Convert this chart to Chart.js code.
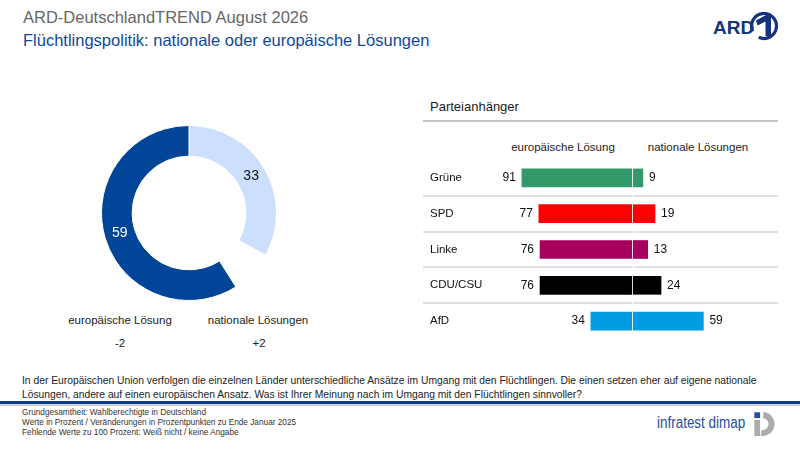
<!DOCTYPE html>
<html><head><meta charset="utf-8">
<script src="https://cdn.jsdelivr.net/npm/chart.js@4.4.1/dist/chart.umd.min.js"></script>
<style>
html,body{margin:0;padding:0;background:#fff;}
#page{position:relative;width:800px;height:450px;overflow:hidden;font-family:"Liberation Sans",Arial,sans-serif;color:#222;}
.abs{position:absolute;white-space:nowrap;}
.c{transform:translateX(-50%);text-align:center;}
canvas{position:absolute;}
</style></head><body>
<div id="page">
  <div class="abs" style="left:23px;top:7px;font-size:16.5px;line-height:20px;color:#666;">ARD-DeutschlandTREND August 2026</div>
  <div class="abs" style="left:23px;top:30px;font-size:16.5px;line-height:20px;color:#0d4a9a;">Flüchtlingspolitik: nationale oder europäische Lösungen</div>

  <div class="abs" style="left:713px;top:17px;font-weight:bold;font-size:19px;line-height:22px;color:#14357c;">ARD</div>
  <svg class="abs" style="left:750px;top:12px;" width="30" height="30" viewBox="0 0 30 30">
    <path d="M8.7 25.3 A12.5 12.5 0 1 0 2.7 19.3" fill="none" stroke="#14357c" stroke-width="3.2"/>
    <path d="M6 8.5 L16 3 L21 3 L21 24 L15.5 24 L15.5 9.5 L7.5 13.5 Z" fill="#14357c"/>
  </svg>

  <canvas id="donut" width="176" height="176" style="left:101px;top:125px;width:176px;height:176px;"></canvas>
  <div class="abs c" id="dl0" style="left:120px;top:312px;font-size:11.5px;line-height:16px;"></div>
  <div class="abs c" id="dl1" style="left:258px;top:312px;font-size:11.5px;line-height:16px;"></div>
  <div class="abs c" id="dc0" style="left:120px;top:335px;font-size:11.5px;line-height:16px;"></div>
  <div class="abs c" id="dc1" style="left:259px;top:335px;font-size:11.5px;line-height:16px;"></div>

  <div class="abs" style="left:430px;top:98px;font-size:13px;line-height:18px;">Parteianhänger</div>
  <div class="abs" style="left:423px;top:120px;width:355px;height:2px;background:#c4c4c4;"></div>
  <div class="abs c" id="h0" style="left:563px;top:139px;font-size:11.5px;line-height:16px;"></div>
  <div class="abs c" id="h1" style="left:698px;top:139px;font-size:11.5px;line-height:16px;"></div>
  <canvas id="bars" width="365" height="255" style="left:420px;top:90px;width:365px;height:255px;"></canvas>

  <div class="abs" style="left:22px;top:374px;font-size:10.3px;line-height:13.5px;color:#222;">In der Europäischen Union verfolgen die einzelnen Länder unterschiedliche Ansätze im Umgang mit den Flüchtlingen. Die einen setzen eher auf eigene nationale<br>Lösungen, andere auf einen europäischen Ansatz. Was ist Ihrer Meinung nach im Umgang mit den Flüchtlingen sinnvoller?</div>
  <div class="abs" style="left:0;top:401px;width:800px;height:3px;background:#0b3d8f;"></div>
  <div class="abs" style="left:0;top:404px;width:800px;height:2px;background:#cfcfcf;"></div>
  <div class="abs" style="left:22px;top:408px;font-size:8.25px;line-height:10px;color:#333;">Grundgesamtheit: Wahlberechtigte in Deutschland<br>Werte in Prozent / Veränderungen in Prozentpunkten zu Ende Januar 2025<br>Fehlende Werte zu 100 Prozent: Weiß nicht / keine Angabe</div>

  <div class="abs" style="left:657px;top:413px;font-size:16px;line-height:20px;color:#1f4f9e;transform:scaleX(0.84);transform-origin:left center;">infratest dimap</div>
  <svg class="abs" style="left:753px;top:409px;" width="26" height="30" viewBox="0 0 26 30">
    <rect x="1.3" y="3.3" width="5.8" height="5.8" fill="#1f4f9e"/>
    <rect x="1.3" y="11" width="5.8" height="16" fill="#a9abae"/>
    <path d="M10.55 3.05 A12 12 0 1 1 7.83 26.88 L8.67 20.94 A6 6 0 1 0 10.02 9.02 Z" fill="#a9abae"/>
  </svg>
</div>
<script>
const donutCategories = ['nationale Lösungen', 'Weiß nicht / keine Angabe', 'europäische Lösung'];
const donutValues = [33, 8, 59];
const donutChanges = ['-2', '+2'];
const donutBottomLabels = ['europäische Lösung', 'nationale Lösungen'];

const parties = ['Grüne', 'SPD', 'Linke', 'CDU/CSU', 'AfD'];
const europaeisch = [91, 77, 76, 76, 34];
const national = [9, 19, 13, 24, 59];
const partyColors = ['#33996a', '#ff0000', '#a8005f', '#000000', '#009ee0'];
const barHeaders = ['europäische Lösung', 'nationale Lösungen'];

document.getElementById('dl0').textContent = donutBottomLabels[0];
document.getElementById('dl1').textContent = donutBottomLabels[1];
document.getElementById('dc0').textContent = donutChanges[0];
document.getElementById('dc1').textContent = donutChanges[1];
document.getElementById('h0').textContent = barHeaders[0];
document.getElementById('h1').textContent = barHeaders[1];

const FONT = '"Liberation Sans", Arial, sans-serif';

const donutLabelPlugin = {
  id: 'donutLabels',
  afterDatasetsDraw(chart) {
    const ctx = chart.ctx;
    const meta = chart.getDatasetMeta(0);
    ctx.save();
    ctx.font = '14px ' + FONT;
    ctx.textAlign = 'center';
    ctx.textBaseline = 'middle';
    meta.data.forEach((arc, i) => {
      if (i === 1) return;
      const p = arc.tooltipPosition();
      ctx.fillStyle = i === 2 ? '#ffffff' : '#111111';
      ctx.fillText(String(donutValues[i]), p.x, p.y);
    });
    ctx.restore();
  }
};

new Chart(document.getElementById('donut'), {
  type: 'doughnut',
  data: {
    labels: donutCategories,
    datasets: [{
      data: donutValues,
      backgroundColor: ['#cce0fd', 'rgba(0,0,0,0)', '#004597'],
      borderColor: '#ffffff',
      borderWidth: [1, 0, 1]
    }]
  },
  options: {
    responsive: false,
    animation: false,
    cutout: '65%',
    layout: { padding: 0 },
    plugins: { legend: { display: false }, tooltip: { enabled: false } }
  },
  plugins: [donutLabelPlugin]
});

const barPlugin = {
  id: 'barDecor',
  beforeDatasetsDraw(chart) {
    const ctx = chart.ctx;
    const y = chart.scales.y;
    ctx.save();
    ctx.strokeStyle = '#e0e0e0';
    ctx.lineWidth = 2;
    for (let i = 0; i < parties.length - 1; i++) {
      const yy = Math.round((y.getPixelForValue(i) + y.getPixelForValue(i + 1)) / 2);
      ctx.beginPath();
      ctx.moveTo(3, yy);
      ctx.lineTo(358, yy);
      ctx.stroke();
    }
    ctx.restore();
  },
  afterDatasetsDraw(chart) {
    const ctx = chart.ctx;
    const x = chart.scales.x;
    const y = chart.scales.y;
    ctx.save();
    ctx.font = '11.5px ' + FONT;
    ctx.textBaseline = 'middle';
    ctx.fillStyle = '#111';
    parties.forEach((p, i) => {
      ctx.textAlign = 'left';
      ctx.fillText(p, 10, y.getPixelForValue(i));
    });
    ctx.font = '12px ' + FONT;
    const m0 = chart.getDatasetMeta(0), m1 = chart.getDatasetMeta(1);
    m0.data.forEach((el, i) => {
      ctx.textAlign = 'right';
      ctx.fillText(String(europaeisch[i]), el.x - 6, el.y);
    });
    m1.data.forEach((el, i) => {
      ctx.textAlign = 'left';
      ctx.fillText(String(national[i]), el.x + 6, el.y);
    });
    const x0 = Math.round(x.getPixelForValue(0)) + 0.5;
    ctx.strokeStyle = 'rgba(255,255,255,0.85)';
    ctx.lineWidth = 1;
    ctx.beginPath();
    ctx.moveTo(x0, chart.chartArea.top);
    ctx.lineTo(x0, chart.chartArea.bottom);
    ctx.stroke();
    ctx.restore();
  }
};

new Chart(document.getElementById('bars'), {
  type: 'bar',
  data: {
    labels: parties,
    datasets: [
      { label: barHeaders[0], data: europaeisch.map(v => -v), backgroundColor: partyColors, barThickness: 18, borderWidth: 0 },
      { label: barHeaders[1], data: national, backgroundColor: partyColors, barThickness: 18, borderWidth: 0 }
    ]
  },
  options: {
    indexAxis: 'y',
    responsive: false,
    animation: false,
    layout: { padding: { left: 91, right: 32, top: 70, bottom: 6 } },
    scales: {
      x: { display: false, stacked: true, min: -100, max: 100 },
      y: { display: false, stacked: true }
    },
    plugins: { legend: { display: false }, tooltip: { enabled: false } }
  },
  plugins: [barPlugin]
});
</script>
</body></html>
